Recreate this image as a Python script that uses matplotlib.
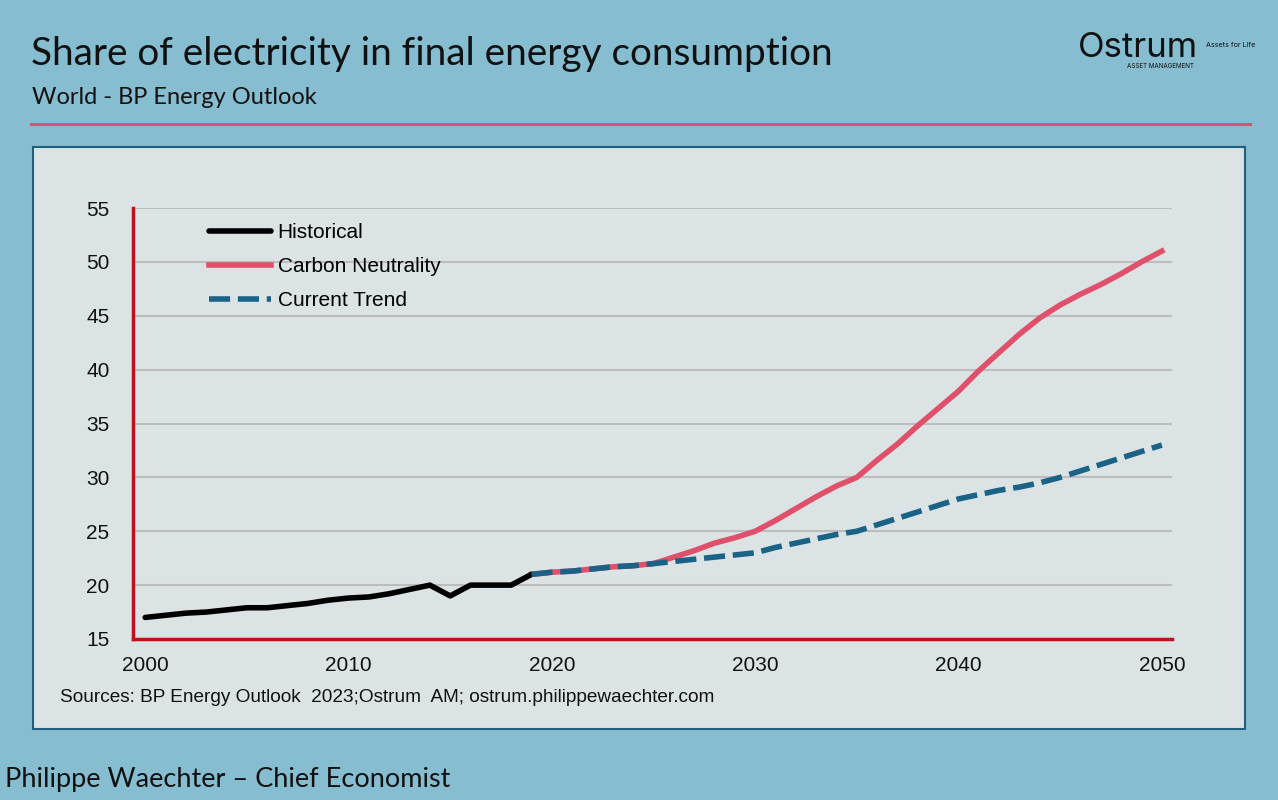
import numpy as np
import matplotlib.pyplot as plt
from matplotlib.patches import Rectangle
from matplotlib.lines import Line2D

# data
hist_years = list(range(2000, 2020))
hist_values = [17.0, 17.2, 17.4, 17.5, 17.7, 17.9, 17.9, 18.1, 18.3, 18.6,
               18.8, 18.9, 19.2, 19.6, 20.0, 19.0, 20.0, 20.0, 20.0, 21.0]

proj_years = list(range(2019, 2051))
carbon_values = [21.0, 21.2, 21.3, 21.5, 21.7, 21.8, 22.0, 22.6, 23.2, 23.9,
                 24.4, 25.0, 26.0, 27.1, 28.2, 29.2, 30.0, 31.6, 33.1, 34.8,
                 36.4, 38.0, 39.9, 41.6, 43.3, 44.8, 46.0, 47.0, 47.9, 48.9,
                 50.0, 51.0]
trend_values = [21.0, 21.2, 21.3, 21.5, 21.7, 21.8, 22.0, 22.2, 22.4, 22.6,
                22.8, 23.0, 23.5, 23.9, 24.3, 24.7, 25.0, 25.6, 26.2, 26.8,
                27.4, 28.0, 28.4, 28.8, 29.1, 29.5, 30.0, 30.6, 31.2, 31.8,
                32.4, 33.0]

y_ticks = [15, 20, 25, 30, 35, 40, 45, 50, 55]
x_ticks = [2000, 2010, 2020, 2030, 2040, 2050]

bg = "#87BDD0"
panel = "#DCE3E5"
red = "#C0101A"
pink = "#E0506A"
blue = "#1A6387"

W, H = 1278, 800
fig = plt.figure(figsize=(W / 100, H / 100), dpi=100, facecolor=bg)

# header
fig.text(31 / W, 1 - 54 / H, "Share of electricity in final energy consumption",
         fontsize=27.9, family="Lato", va="center", ha="left", color="#111111")
fig.text(32 / W, 1 - 97 / H, "World - BP Energy Outlook",
         fontsize=17, family="Lato", va="center", ha="left", color="#111111")
fig.add_artist(Line2D([31 / W, 1250 / W], [1 - 124 / H, 1 - 124 / H],
                      color="#E0506A", lw=2.2, transform=fig.transFigure))

# logo text
fig.text(1078 / W, 1 - 48 / H, "Ostrum", fontsize=25, family="Inter",
         va="center", ha="left", color="#111111")
fig.text(1206 / W, 1 - 45 / H, "Assets for Life", fontsize=5.2, family="Inter",
         va="center", ha="left", color="#111111")
fig.text(1127 / W, 1 - 66 / H, "ASSET MANAGEMENT", fontsize=4.5, family="Inter",
         va="center", ha="left", color="#111111")

# panel box
fig.add_artist(Rectangle((33 / W, 1 - 729 / H), (1245 - 33) / W, (729 - 147) / H,
                         facecolor=panel, edgecolor="#1F5F80", lw=1.5,
                         transform=fig.transFigure, zorder=0))

ax = fig.add_axes([133 / W, 1 - 639 / H, (1172 - 133) / W, (639 - 208) / H])
ax.patch.set_alpha(0)

ax.plot(hist_years, hist_values, color="black", lw=4, solid_capstyle="round",
        label="Historical", zorder=4)
ax.plot(proj_years, carbon_values, color=pink, lw=4, label="Carbon Neutrality", zorder=3)
ax.plot(proj_years, trend_values, color=blue, lw=4, ls=(0, (3.8, 1.4)),
        label="Current Trend", zorder=4)

ax.set_xlim(1999.4, 2050.5)
ax.set_ylim(15, 55)
ax.set_yticks(y_ticks)
ax.set_xticks(x_ticks)
ax.yaxis.grid(True, color="#BDBDBD", lw=1.5)
ax.set_axisbelow(True)
for s in ["top", "right"]:
    ax.spines[s].set_visible(False)
for s in ["left", "bottom"]:
    ax.spines[s].set_color(red)
    ax.spines[s].set_linewidth(2.5)
ax.tick_params(length=0, labelsize=15, colors="#111111")
ax.tick_params(axis="x", pad=12)
ax.tick_params(axis="y", pad=17)
for lab in ax.get_xticklabels() + ax.get_yticklabels():
    lab.set_family("Liberation Sans")

leg = ax.legend(loc="upper left", bbox_to_anchor=(0.055, 1.008), frameon=False,
                prop={"family": "Liberation Sans", "size": 15}, handlelength=3.0,
                handletextpad=0.3, labelspacing=0.72)

fig.text(60 / W, 1 - 697 / H,
         "Sources: BP Energy Outlook  2023;Ostrum  AM; ostrum.philippewaechter.com",
         fontsize=13.7, family="Liberation Sans", va="center", ha="left", color="#111111")

fig.text(5 / W, 1 - 780 / H, "Philippe Waechter \u2013 Chief Economist",
         fontsize=19.5, family="Lato", va="center", ha="left", color="#111111")

fig.savefig("out.png", dpi=100, facecolor=bg)
